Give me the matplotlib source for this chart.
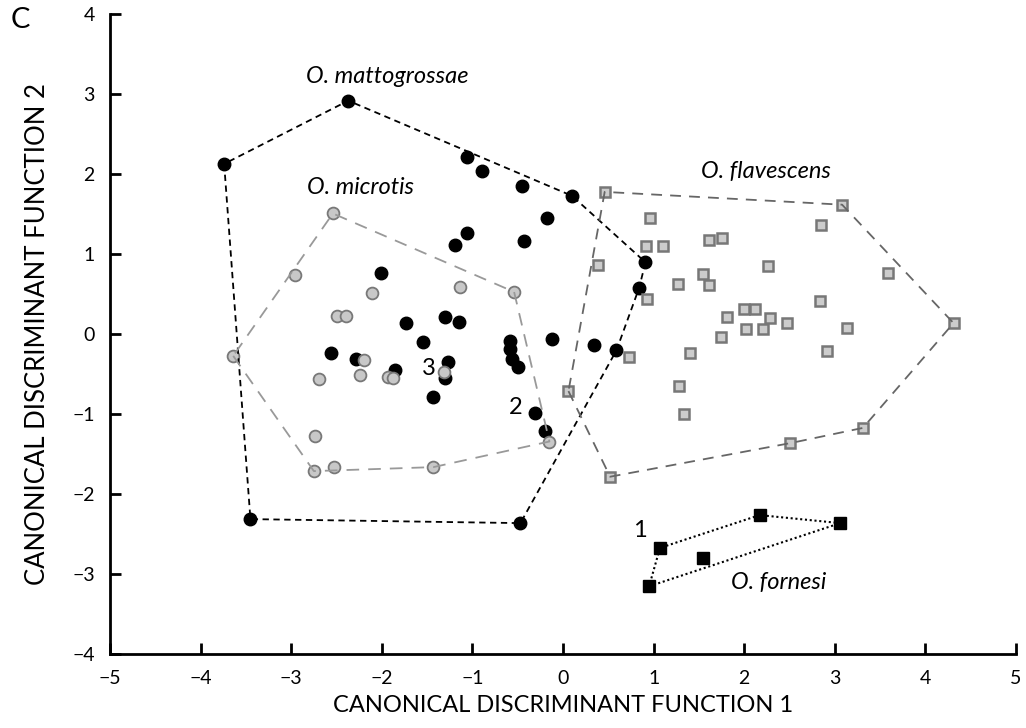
import matplotlib
matplotlib.use('Agg')
import matplotlib.pyplot as plt
import numpy as np

plt.rcParams['font.family'] = ['Lato', 'DejaVu Sans']

# O. mattogrossae (black circles)
matto_x = [-2.37, -3.74, -1.06, -0.89, -0.45, 0.10, -0.18, -1.06, -1.19, -0.43,
           0.91, 0.84, -2.01, -1.73, -1.30, -1.15, -1.55, -2.56, -2.28, -1.85,
           -1.27, -1.30, -1.44, -0.58, -0.58, -0.56, -0.50, -0.12, 0.34, 0.59,
           -0.31, -0.20, -3.45, -0.47]
matto_y = [2.92, 2.13, 2.22, 2.04, 1.85, 1.73, 1.45, 1.27, 1.12, 1.17,
           0.90, 0.58, 0.76, 0.14, 0.21, 0.15, -0.10, -0.23, -0.31, -0.44,
           -0.35, -0.54, -0.78, -0.09, -0.19, -0.31, -0.41, -0.06, -0.13, -0.20,
           -0.98, -1.21, -2.31, -2.36]

# O. microtis (grey circles)
micro_x = [-2.54, -2.96, -2.11, -2.49, -2.39, -1.14, -0.54, -3.64, -2.20, -2.69,
           -2.24, -1.93, -1.88, -1.31, -2.74, -2.75, -2.53, -1.43, -0.15]
micro_y = [1.51, 0.74, 0.52, 0.23, 0.23, 0.59, 0.53, -0.27, -0.32, -0.56,
           -0.51, -0.53, -0.54, -0.47, -1.27, -1.71, -1.66, -1.66, -1.34]

# O. flavescens (grey squares)
flav_x = [0.46, 0.96, 0.92, 1.10, 0.39, 1.27, 0.93, 1.40, 0.73, 1.28,
          1.33, 0.06, 3.08, 2.85, 1.61, 1.75, 2.26, 3.59, 1.55, 1.61,
          2.84, 2.00, 2.12, 2.28, 4.31, 1.81, 2.02, 2.21, 2.47, 3.13,
          1.74, 2.91, 3.31, 2.51, 0.52]
flav_y = [1.78, 1.45, 1.10, 1.10, 0.87, 0.63, 0.44, -0.23, -0.28, -0.64,
          -1.00, -0.71, 1.62, 1.36, 1.18, 1.20, 0.85, 0.77, 0.75, 0.62,
          0.42, 0.32, 0.32, 0.20, 0.14, 0.22, 0.07, 0.06, 0.14, 0.08,
          -0.04, -0.21, -1.17, -1.36, -1.78]

# O. fornesi (black squares)
forn_x = [1.07, 2.17, 3.06, 1.54, 0.95]
forn_y = [-2.67, -2.26, -2.36, -2.80, -3.15]

# numbered specimens
num_labels = ['1', '2', '3']
num_x = [0.85, -0.52, -1.48]
num_y = [-2.45, -0.92, -0.43]

species = ['O. mattogrossae', 'O. microtis', 'O. flavescens', 'O. fornesi']
species_x = [-1.94, -2.23, 2.24, 2.38]
species_y = [3.22, 1.83, 2.03, -3.10]


def hull(xs, ys):
    pts = sorted(set(zip(xs, ys)))

    def cross(o, a, b):
        return (a[0] - o[0]) * (b[1] - o[1]) - (a[1] - o[1]) * (b[0] - o[0])

    lower, upper = [], []
    for p in pts:
        while len(lower) >= 2 and cross(lower[-2], lower[-1], p) <= 0:
            lower.pop()
        lower.append(p)
    for p in reversed(pts):
        while len(upper) >= 2 and cross(upper[-2], upper[-1], p) <= 0:
            upper.pop()
        upper.append(p)
    h = lower[:-1] + upper[:-1]
    h.append(h[0])
    return np.array(h)


fig = plt.figure(figsize=(10.26, 7.28), dpi=100)
ax = fig.add_axes([0.1072, 0.1012, 0.8831, 0.8792])

ax.plot(matto_x, matto_y, 'o', ms=9, mfc='black', mec='black', zorder=2)
ax.plot(micro_x, micro_y, 'o', ms=8.5, mfc='#c8c8c8', mec='#787878', mew=1.3, zorder=3)
ax.plot(flav_x, flav_y, 's', ms=7.5, mfc='#cccccc', mec='#777777', mew=1.8, zorder=3)
ax.plot(forn_x, forn_y, 's', ms=8.5, mfc='black', mec='black', zorder=3)

h = hull(matto_x, matto_y)
ax.plot(h[:, 0], h[:, 1], color='black', lw=1.3, ls=(0, (3.5, 2.5)), zorder=4)
h = hull(micro_x, micro_y)
ax.plot(h[:, 0], h[:, 1], color='#999999', lw=1.3, ls=(0, (7, 5)), zorder=4)
h = hull(flav_x, flav_y)
ax.plot(h[:, 0], h[:, 1], color='#666666', lw=1.3, ls=(0, (6, 4.5)), zorder=4)
h = hull(forn_x, forn_y)
ax.plot(h[:, 0], h[:, 1], color='black', lw=1.5, ls=(0, (1, 1.3)), zorder=4)

for t, x, y in zip(num_labels, num_x, num_y):
    ax.text(x, y, t, fontsize=17, ha='center', va='center', zorder=5)
for t, x, y in zip(species, species_x, species_y):
    ax.text(x, y, t, fontsize=17, style='italic', ha='center', va='center', zorder=5)

ax.set_xlim(-5, 5)
ax.set_ylim(-4, 4)
ax.set_xticks(range(-5, 6))
ax.set_yticks(range(-4, 5))
ax.spines['top'].set_visible(False)
ax.spines['right'].set_visible(False)
ax.spines['left'].set_linewidth(2)
ax.spines['bottom'].set_linewidth(2)
ax.tick_params(direction='in', length=8, width=2, labelsize=14, pad=11)
ax.set_xlabel('CANONICAL DISCRIMINANT FUNCTION 1', fontsize=17, labelpad=6)
ax.set_ylabel('CANONICAL DISCRIMINANT FUNCTION 2', fontsize=18.5, labelpad=16)

fig.text(0.01, 0.972, 'C', fontsize=21, ha='left', va='center')

fig.savefig('out.png', dpi=100)
